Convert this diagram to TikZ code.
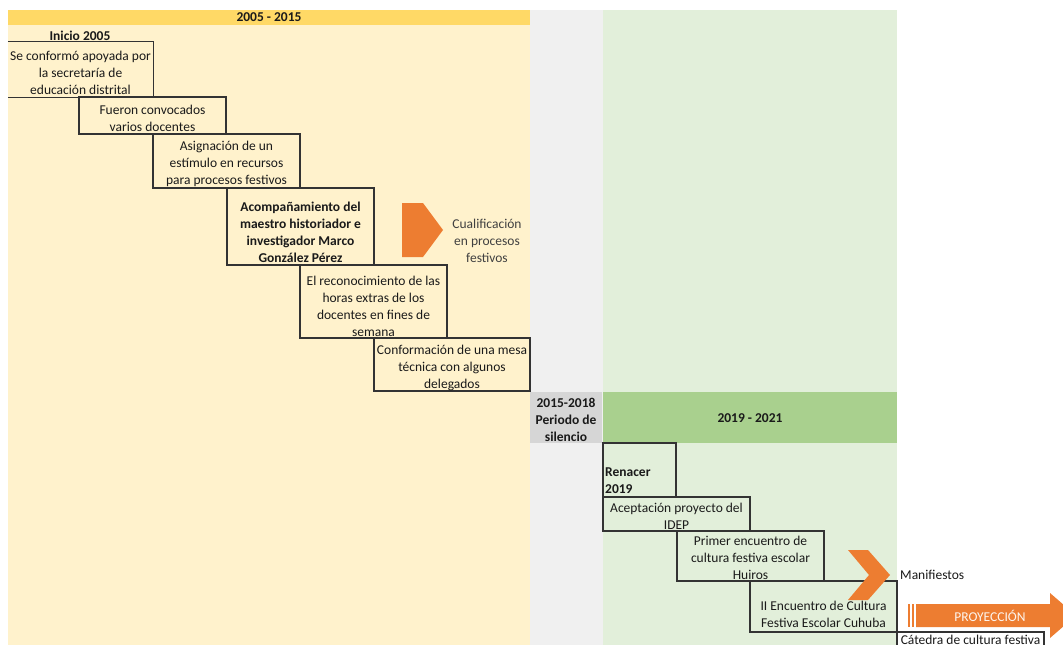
\documentclass[tikz,border=0pt]{standalone}
\usepackage{fontspec}
\setmainfont{Carlito}
\definecolor{cream}{HTML}{FFF2CC}
\definecolor{gold}{HTML}{FFD966}
\definecolor{lgreen}{HTML}{E2EFDA}
\definecolor{dgreen}{HTML}{A9D08E}
\definecolor{lgray}{HTML}{F0F0F0}
\definecolor{dgray}{HTML}{D6D6D6}
\definecolor{orng}{HTML}{ED7D31}
\definecolor{boxline}{HTML}{333333}
\definecolor{txt}{HTML}{1A1A1A}
\definecolor{softtxt}{HTML}{404040}
\newcommand{\fs}{\fontsize{13.5}{17}\selectfont}
\tikzset{
  stepbox/.style={draw=boxline, line width=1.2pt, inner sep=0pt},
  plaintxt/.style={inner sep=0pt, align=center, font=\fs, text=txt},
  boldtxt/.style={inner sep=0pt, align=center, font=\fs\bfseries, text=txt},
}
\begin{document}
\begin{tikzpicture}[x=1pt, y=-1pt]
\useasboundingbox (0,0) rectangle (1063,645);
\fill[white] (0,0) rectangle (1063,645);
% background columns
\fill[cream] (8,10) rectangle (530,645);
\fill[gold] (8,10) rectangle (530,25);
\fill[lgray] (530,10) rectangle (603,645);
\fill[dgray] (530,392) rectangle (602,443);
\fill[lgreen] (603,10) rectangle (897,645);
\fill[dgreen] (603,392) rectangle (897,443);
% headers
\node[boldtxt] (h1) at (269,17.5) {2005 - 2015};
\node[boldtxt] (h2) at (566,420) {2015-2018\\Periodo de\\silencio};
\node[boldtxt] (h3) at (750,418) {2019 - 2021};
\node[boldtxt] (ini) at (80,35.5) {Inicio 2005};
% upper staircase
\node[inner sep=0pt, minimum width=145pt, minimum height=55pt] (b1) at (80.5,69.5) {};
\draw[boxline, line width=1.2pt] (b1.north west) -| (b1.south east) -- (b1.south west);
\node[plaintxt] (b1t) at (80.5,73) {Se conformó apoyada por\\la secretaría de\\educación distrital};
\node[stepbox, minimum width=147pt, minimum height=37pt] (b2) at (152.5,115.5) {};
\node[plaintxt] (b2t) at (152.5,118.5) {Fueron convocados\\varios docentes};
\node[stepbox, minimum width=147pt, minimum height=54pt] (b3) at (226.5,161) {};
\node[plaintxt] (b3t) at (226.5,164) {Asignación de un\\estímulo en recursos\\para procesos festivos};
\node[stepbox, minimum width=147pt, minimum height=77pt] (b4) at (300.5,226.5) {};
\node[boldtxt] (b4t) at (300.5,232) {Acompañamiento del\\maestro historiador e\\investigador Marco\\González Pérez};
\node[stepbox, minimum width=147pt, minimum height=73pt] (b5) at (373.5,301.5) {};
\node[plaintxt] (b5t) at (373.5,306.5) {El reconocimiento de las\\horas extras de los\\docentes en fines de\\semana};
\node[stepbox, minimum width=156pt, minimum height=53pt] (b6) at (452,364.5) {};
\node[plaintxt] (b6t) at (452,368) {Conformación de una mesa\\técnica con algunos\\delegados};
% pentagon arrow
\fill[orng] (402,203) -- (423,203) -- (443,230) -- (423,257) -- (402,257) -- cycle;
\node[plaintxt, text=softtxt] (cual) at (487,240.5) {Cualificación\\en procesos\\festivos};
% lower staircase
\node[stepbox, minimum width=73pt, minimum height=54pt] (b7) at (639.5,470) {};
\node[boldtxt, align=left, anchor=west] (b7t) at (605,480.5) {Renacer\\2019};
\node[stepbox, minimum width=147pt, minimum height=34pt] (b8) at (676.5,514) {};
\node[plaintxt] (b8t) at (676.5,516) {Aceptación proyecto del\\IDEP};
\node[stepbox, minimum width=147pt, minimum height=50pt] (b9) at (750.5,556) {};
\node[plaintxt] (b9t) at (750.5,558) {Primer encuentro de\\cultura festiva escolar\\Huiros};
\node[stepbox, minimum width=147pt, minimum height=51pt] (b10) at (823.5,606.5) {};
\node[plaintxt] (b10t) at (823.5,614.5) {II Encuentro de Cultura\\Festiva Escolar Cuhuba};
\node[stepbox, minimum width=147pt, minimum height=34pt] (b11) at (970.5,649) {};
\node[plaintxt] (b11t) at (970.5,640) {Cátedra de cultura festiva};
% chevron
\fill[orng] (848,550) -- (868,550) -- (890,575) -- (868,600) -- (848,600) -- (869,575) -- cycle;
\node[plaintxt, anchor=west] (man) at (900,575) {Manifiestos};
% striped arrow
\fill[orng] (908,604) rectangle (910,627);
\fill[orng] (912,604) rectangle (914,627);
\fill[orng] (916,604) -- (1050,604) -- (1050,593) -- (1076,615.5) -- (1050,638) -- (1050,627) -- (916,627) -- cycle;
\node[plaintxt, text=white!92!orng] (proy) at (990,616) {PROYECCIÓN};
\end{tikzpicture}
\end{document}
